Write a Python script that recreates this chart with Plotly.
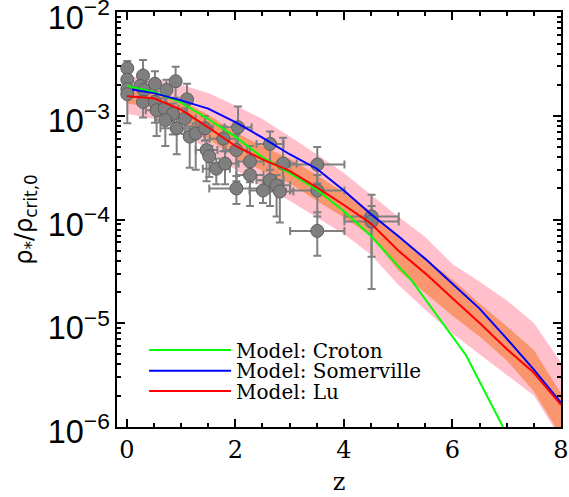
import plotly.graph_objects as go

# ---------------- data ----------------
# observational points: redshift, log10(rho*/rho_crit,0), x half-error, dex errors (up, down)
obs_z = [0.01, 0.01, 0.01, 0.01, 0.30, 0.25, 0.32, 0.30, 0.52, 0.52, 0.55, 0.73, 0.90,
         0.70, 0.85, 0.71, 0.92, 1.16, 1.11, 1.07, 1.27, 1.44, 1.47, 1.52, 1.65, 1.81,
         1.78, 2.02, 2.05, 2.27, 2.27, 2.02, 2.51, 2.64, 2.64, 2.76, 2.82, 2.88, 3.51,
         3.51, 3.51, 4.51, 4.51]
obs_logrho = [-2.54, -2.65, -2.74, -2.79, -2.61, -2.71, -2.75, -2.865, -2.69, -2.865, -2.945,
              -2.75, -2.665, -2.93, -2.98, -3.04, -3.12, -3.20, -2.84, -3.025, -3.17, -3.12,
              -3.33, -3.39, -3.51, -3.46, -3.22, -3.33, -3.11, -3.44, -3.57, -3.70, -3.72,
              -3.27, -3.62, -3.67, -3.73, -3.46, -3.47, -3.72, -4.11, -3.97, -4.02]
obs_zerr = [0, 0, 0, 0, 0, 0, 0.1, 0, 0, 0, 0.2, 0, 0, 0.25, 0, 0, 0.3, 0, 0, 0.2, 0.15,
            0.15, 0.2, 0, 0.25, 0.25, 0.25, 0.2, 0.25, 0.25, 0.25, 0.5, 0.25, 0.25, 0.25,
            0.25, 0.25, 0.25, 0.5, 0.5, 0.5, 0.5, 0.5]
obs_dex_up = [0.07, 0.08, 0.06, 0.08, 0.15, 0.10, 0.08, 0.10, 0.12, 0.10, 0.10, 0.10, 0.14,
              0.10, 0.10, 0.12, 0.12, 0.10, 0.15, 0.10, 0.10, 0.12, 0.10, 0.10, 0.10, 0.12,
              0.12, 0.15, 0.20, 0.15, 0.12, 0.12, 0.10, 0.12, 0.10, 0.10, 0.10, 0.25, 0.17,
              0.15, 0.18, 0.21, 0.15]
obs_dex_dn = [0.07, 0.08, 0.06, 0.28, 0.12, 0.10, 0.08, 0.15, 0.12, 0.20, 0.25, 0.15, 0.16,
              0.15, 0.20, 0.25, 0.25, 0.30, 0.15, 0.15, 0.35, 0.12, 0.30, 0.20, 0.15, 0.20,
              0.12, 0.30, 0.20, 0.20, 0.30, 0.15, 0.12, 0.30, 0.25, 0.30, 0.30, 0.25, 0.18,
              0.25, 0.24, 0.39, 0.65]

# model curves (log10 rho*/rho_crit,0)
croton_z = [0, 0.5, 1, 1.5, 2, 2.5, 3, 3.5, 4, 4.5, 5, 5.25, 6.25, 7.5]
croton_log = [-2.71, -2.77, -2.87, -3.03, -3.20, -3.40, -3.55, -3.71, -3.92, -4.16, -4.45,
              -4.59, -5.31, -6.58]

somerville_z = [0.1, 0.5, 1, 1.5, 2, 2.5, 3, 3.5, 4, 4.5, 5, 5.5, 6, 6.5, 7, 7.5, 8]
somerville_log = [-2.745, -2.78, -2.85, -2.93, -3.06, -3.21, -3.37, -3.51, -3.72, -3.95, -4.16,
                  -4.38, -4.62, -4.86, -5.15, -5.45, -5.77]

lu_z = [0, 0.5, 1, 1.5, 2, 2.5, 3, 3.5, 4, 4.5, 5, 5.5, 6, 6.5, 7, 7.5, 8]
lu_log = [-2.81, -2.83, -2.94, -3.11, -3.29, -3.42, -3.53, -3.69, -3.86, -4.04, -4.30, -4.52,
          -4.76, -5.00, -5.25, -5.48, -5.79]

# Lu model uncertainty bands
band_z = [0, 0.5, 1, 1.5, 2, 2.5, 3, 3.5, 4, 4.5, 5, 5.5, 6, 6.5, 7, 7.5, 8]
wide_hi = [-2.62, -2.64, -2.70, -2.78, -2.90, -3.03, -3.20, -3.37, -3.55, -3.76, -3.97, -4.17,
           -4.43, -4.60, -4.78, -5.00, -5.38]
wide_lo = [-2.98, -3.03, -3.15, -3.33, -3.52, -3.68, -3.82, -3.98, -4.14, -4.34, -4.63, -4.87,
           -5.10, -5.30, -5.50, -5.70, -6.12]
narrow_hi = [-2.76, -2.77, -2.85, -2.99, -3.16, -3.29, -3.41, -3.57, -3.74, -3.92, -4.16, -4.38,
             -4.58, -4.81, -5.03, -5.26, -5.68]
narrow_lo = [-2.88, -2.92, -3.03, -3.22, -3.40, -3.53, -3.65, -3.82, -3.98, -4.16, -4.49, -4.71,
             -4.93, -5.13, -5.36, -5.66, -6.09]

legend_names = ["Model: Croton", "Model: Somerville", "Model: Lu"]


def lin(vals):
    return [10 ** v for v in vals]


obs_rho = lin(obs_logrho)
err_plus = [r * (10 ** u - 1) for r, u in zip(obs_rho, obs_dex_up)]
err_minus = [r * (1 - 10 ** (-d)) for r, d in zip(obs_rho, obs_dex_dn)]

fig = go.Figure()

# bands
fig.add_trace(go.Scatter(x=band_z + band_z[::-1], y=lin(wide_hi) + lin(wide_lo)[::-1],
                         fill="toself", fillcolor="#FFC0CB", line=dict(width=0),
                         mode="lines", showlegend=False, hoverinfo="skip"))
fig.add_trace(go.Scatter(x=band_z + band_z[::-1], y=lin(narrow_hi) + lin(narrow_lo)[::-1],
                         fill="toself", fillcolor="#F9966F", line=dict(width=0),
                         mode="lines", showlegend=False, hoverinfo="skip"))

# observations
fig.add_trace(go.Scatter(
    x=obs_z, y=obs_rho, mode="markers", showlegend=False,
    marker=dict(size=13, color="#7F7F7F", line=dict(color="#5E5E5E", width=1)),
    error_y=dict(type="data", array=err_plus, arrayminus=err_minus, color="#808080",
                 thickness=2, width=4),
    error_x=dict(type="data", array=obs_zerr, color="#808080", thickness=2, width=4),
))

# models
fig.add_trace(go.Scatter(x=croton_z, y=lin(croton_log), mode="lines", name=legend_names[0],
                         line=dict(color="#00FF00", width=2), legend="legend"))
fig.add_trace(go.Scatter(x=somerville_z, y=lin(somerville_log), mode="lines",
                         name=legend_names[1], line=dict(color="#0000FF", width=2),
                         legend="legend2"))
fig.add_trace(go.Scatter(x=lu_z, y=lin(lu_log), mode="lines", name=legend_names[2],
                         line=dict(color="#FF0000", width=2), legend="legend3"))

leg_font = dict(family="DejaVu Serif", size=20, color="black")
leg_common = dict(xanchor="left", yanchor="middle", bgcolor="rgba(0,0,0,0)",
                  font=leg_font, itemwidth=82, borderwidth=0)

fig.update_layout(
    width=569, height=497,
    margin=dict(l=117, r=8, t=12, b=70),
    paper_bgcolor="white", plot_bgcolor="white",
    legend=dict(x=0.061, y=0.1855, **leg_common),
    legend2=dict(x=0.061, y=0.1357, **leg_common),
    legend3=dict(x=0.061, y=0.0867, **leg_common),
)

fig.update_xaxes(
    range=[-0.18, 8.0], tickvals=[0, 2, 4, 6, 8], ticks="inside", ticklen=8, tickwidth=1.5,
    tickcolor="black", showline=True, linecolor="black", linewidth=2, mirror="allticks",
    showgrid=False, zeroline=False, automargin=False, ticklabeloverflow="allow",
    tickfont=dict(family="DejaVu Serif", size=24, color="black"),
    minor=dict(dtick=0.5, tick0=0, ticks="inside", ticklen=4, tickcolor="black", showgrid=False),
    title=dict(text="z", font=dict(family="DejaVu Serif", size=24, color="black"), standoff=10),
)
fig.update_yaxes(
    type="log", range=[-6.003, -1.997], dtick=1, exponentformat="power", showexponent="all",
    ticks="inside", ticklen=8, tickwidth=1.5, tickcolor="black", showline=True,
    linecolor="black", linewidth=2, mirror="allticks", showgrid=False, zeroline=False,
    automargin=False, ticklabeloverflow="allow", ticklabelshift=5,
    tickfont=dict(family="Liberation Sans", size=26, color="black"),
    minor=dict(dtick="D1", ticks="inside", ticklen=4, tickcolor="black", showgrid=False),
    title=dict(text="ρ<sub>*</sub>/ρ<sub>crit,0</sub>",
               font=dict(family="DejaVu Sans", size=24, color="black"), standoff=8),
)

fig.write_html("out.html", config={"displayModeBar": False},
               post_script="document.body.style.margin='0';")
